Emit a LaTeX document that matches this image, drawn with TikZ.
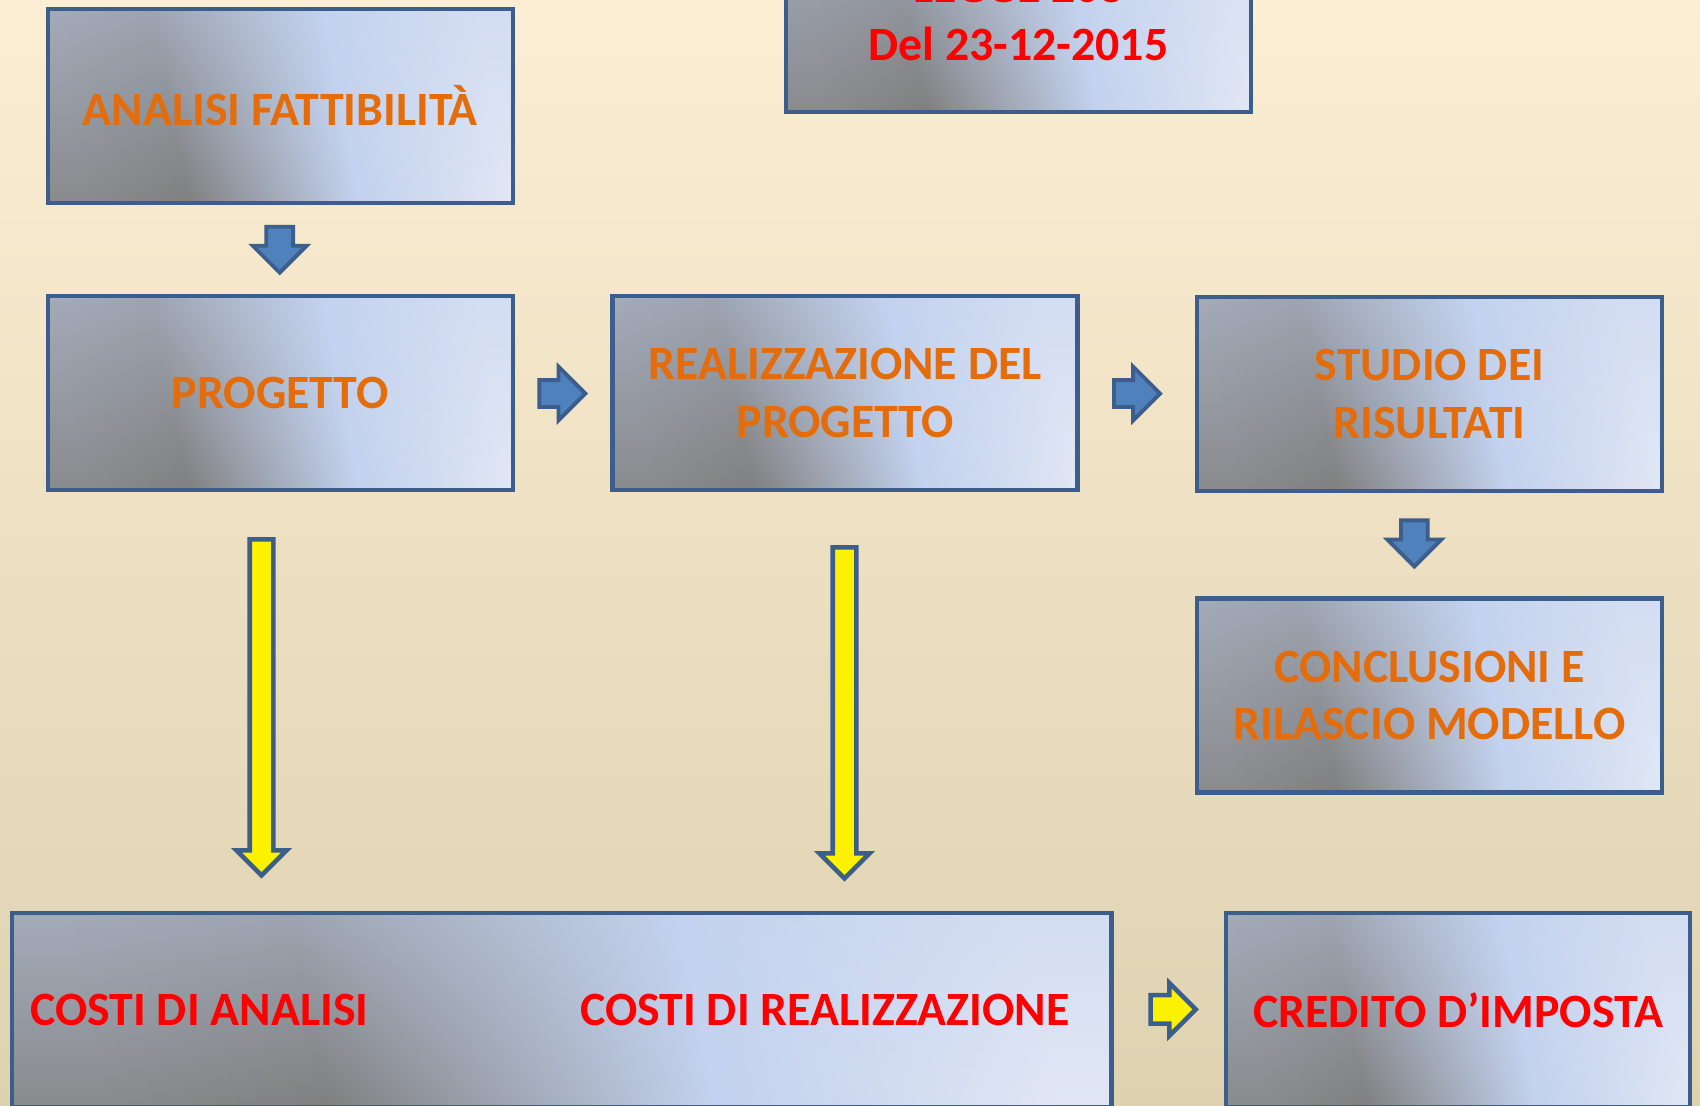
\documentclass[tikz,border=0pt]{standalone}
\usepackage{fontspec}
\setmainfont{Carlito}
\usetikzlibrary{shapes.arrows,fadings}

\definecolor{bgtop}{HTML}{FCEED3}
\definecolor{bgmid}{HTML}{F0E9D5}
\definecolor{bgbot}{HTML}{DED2B1}
\definecolor{boxline}{HTML}{3B5E8C}
\definecolor{boxgray}{HTML}{808080}
\definecolor{boxgrayA}{HTML}{8A8B8E}
\definecolor{boxblue}{HTML}{C3D2EE}
\definecolor{boxlight}{HTML}{E1E7F5}
\definecolor{arrowblue}{HTML}{4F81BD}
\definecolor{txtorange}{HTML}{E46C0A}
\definecolor{txtred}{HTML}{FF0000}

\pgfdeclarehorizontalshading{boxfill}{100bp}{color(0bp)=(boxgrayA); color(25bp)=(boxgrayA); color(37bp)=(boxgray); color(57bp)=(boxblue); color(75bp)=(boxlight); color(100bp)=(boxlight)}
\tikzfading[name=fadetop, top color=transparent!55, bottom color=transparent!100]

\begin{document}
\begin{tikzpicture}[
  box/.style={shade, shading=boxfill, shading angle=11,
    postaction={fill=boxblue, path fading=fadetop},
    postaction={draw=boxline, line width=2.5pt},
    minimum width=9.3cm, minimum height=3.88cm, inner sep=0pt, align=center,
    text=txtorange, font=\bfseries\fontsize{27.2}{33}\selectfont},
  redtext/.style={inner sep=0pt, text=txtred, font=\bfseries\fontsize{27.2}{33}\selectfont},
  blockarrow/.style={single arrow, draw=boxline, inner xsep=0pt, single arrow tip angle=90},
  bluearrow/.style={blockarrow, line width=2.2pt, fill=arrowblue, inner ysep=0.23cm, single arrow head extend=0.27cm, minimum height=0.92cm},
  yellowarrow/.style={blockarrow, line width=2.6pt, fill=yellow, inner ysep=0.19cm, single arrow head extend=0.265cm}
]

\clip (0, 0) rectangle (34, 22.12);
\fill[top color=bgtop, middle color=bgmid, bottom color=bgbot] (0, 0) rectangle (34, 22.12);

% boxes
\node[box] (analisi) at (5.605, 20.005) {ANALISI FATTIBILITÀ};
\node[box, text=txtred] (legge) at (20.37, 21.82) {LEGGE 208\\Del 23-12-2015};
\node[box] (progetto) at (5.605, 14.259) {PROGETTO};
\node[box] (realizzazione) at (16.903, 14.259) {REALIZZAZIONE DEL\\PROGETTO};
\node[box] (studio) at (28.59, 14.237) {STUDIO DEI\\RISULTATI};
\node[box] (conclusioni) at (28.59, 8.21) {CONCLUSIONI E\\RILASCIO MODELLO};
\node[box, minimum width=21.99cm] (costi) at (11.232, 1.92) {};
\node[box, minimum width=9.28cm, text=txtred] (credito) at (29.165, 1.92) {CREDITO D’IMPOSTA};

\node[redtext, anchor=west] (costiAnalisi) at (0.6, 1.93) {COSTI DI ANALISI};
\node[redtext, anchor=west] (costiReal) at (11.6, 1.93) {COSTI DI REALIZZAZIONE};

% arrows
\node[bluearrow, rotate=-90] (down1) at (5.594, 17.26) {};
\node[bluearrow] (right1) at (11.113, 14.249) {};
\node[bluearrow] (right2) at (22.606, 14.249) {};
\node[bluearrow, rotate=-90] (down2) at (28.287, 11.386) {};
\node[yellowarrow, rotate=-90, minimum height=6.72cm] (long1) at (5.23, 8.09) {};
\node[yellowarrow, rotate=-90, minimum height=6.62cm] (long2) at (16.89, 7.98) {};
\node[yellowarrow, inner ysep=0.24cm, minimum height=0.9cm, single arrow head extend=0.24cm] (right3) at (23.321, 1.932) {};

\end{tikzpicture}
\end{document}
